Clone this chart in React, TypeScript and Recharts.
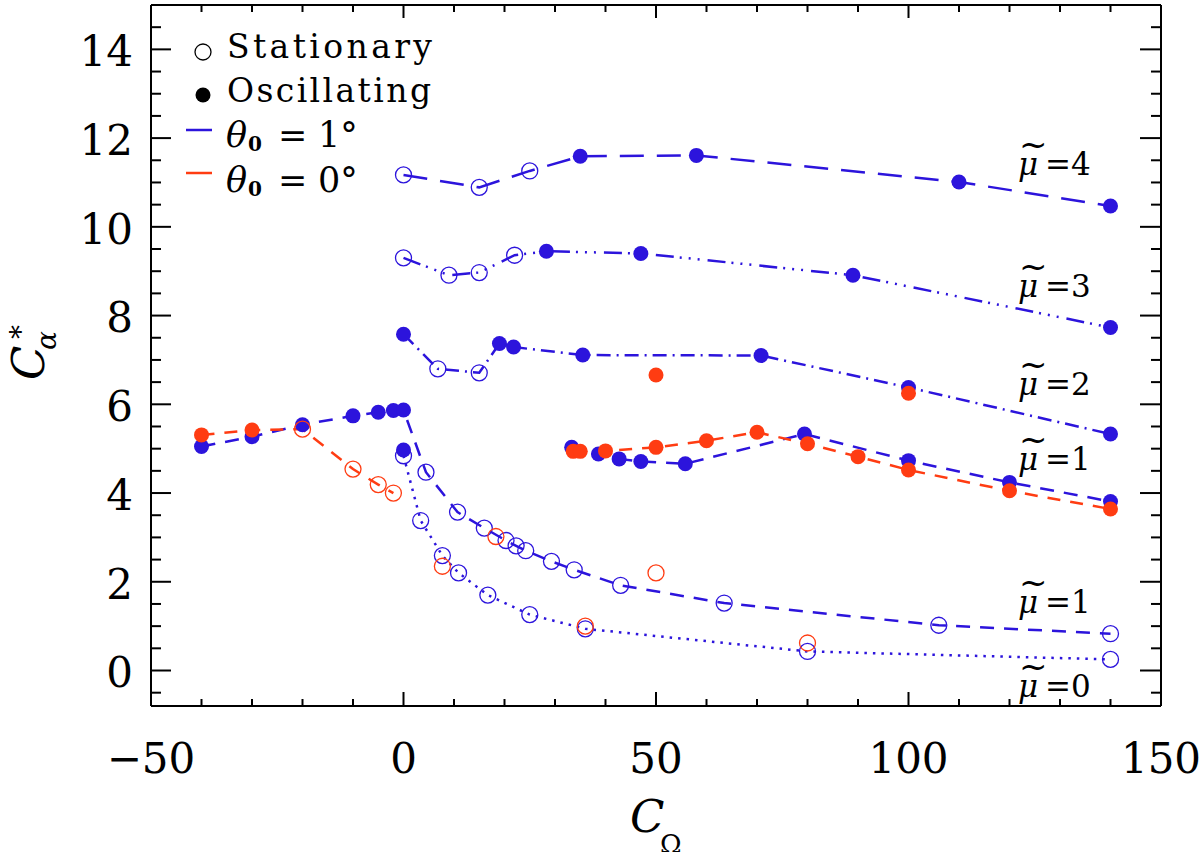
import React from "react";
import { LineChart, Line, XAxis, YAxis } from "recharts";

// [C_Omega, C_alpha*, oscillating?]
type Row = [number, number, number];

const blueMu4: Row[] = [[0, 11.17, 0], [15, 10.89, 0], [25, 11.26, 0], [35, 11.59, 1], [58, 11.61, 1], [110, 11.01, 1], [140, 10.47, 1]];
const blueMu3: Row[] = [[0, 9.3, 0], [9, 8.91, 0], [15, 8.97, 0], [22, 9.36, 0], [28.3, 9.45, 1], [47, 9.4, 1], [89, 8.91, 1], [140, 7.73, 1]];
const blueMu2: Row[] = [[0, 7.58, 1], [6.8, 6.8, 0], [15, 6.71, 0], [19, 7.37, 1], [21.8, 7.29, 1], [35.5, 7.11, 1], [70.8, 7.1, 1], [100, 6.38, 1], [140, 5.33, 1]];
const blueMu1Left: Row[] = [
  [-40, 5.05, 1], [-30, 5.27, 1], [-20, 5.54, 1], [-10, 5.74, 1], [-5, 5.82, 1], [-2, 5.86, 1], [0, 5.87, 1],
  [4.45, 4.47, 0], [10.7, 3.57, 0], [16, 3.21, 0], [20.3, 2.93, 0], [22.3, 2.81, 0], [24.2, 2.7, 0],
  [29.3, 2.46, 0], [33.8, 2.27, 0], [43, 1.92, 0], [63.5, 1.52, 0], [106, 1.02, 0], [140, 0.83, 0],
];
const blueMu1Right: Row[] = [[33.3, 5.03, 1], [38.6, 4.88, 1], [42.7, 4.77, 1], [47, 4.71, 1], [55.8, 4.66, 1], [79.4, 5.33, 1], [100, 4.73, 1], [120, 4.24, 1], [140, 3.81, 1]];
const blueMu0: Row[] = [[0, 4.84, 0], [3.4, 3.38, 0], [7.7, 2.59, 0], [10.9, 2.2, 0], [16.7, 1.7, 0], [25, 1.26, 0], [36, 0.94, 0], [80, 0.43, 0], [140, 0.25, 0]];
const blueSingle: Row[] = [[0, 4.97, 1]];
const redLeft: Row[] = [[-40, 5.31, 1], [-30, 5.42, 1], [-20, 5.44, 0], [-10, 4.54, 0], [-5, 4.19, 0], [-2, 4.0, 0]];
const redRight: Row[] = [[33.6, 4.94, 1], [35, 4.94, 1], [40, 4.95, 1], [50, 5.03, 1], [60, 5.18, 1], [70, 5.37, 1], [80, 5.11, 1], [90, 4.82, 1], [100, 4.52, 1], [120, 4.05, 1], [140, 3.64, 1]];
const redSingles: Row[] = [[50, 6.66, 1], [100, 6.25, 1], [7.7, 2.35, 0], [18.3, 3.02, 0], [36, 1.0, 0], [50, 2.2, 0], [80, 0.62, 0]];

const xTicks = [-50, -40, -30, -20, -10, 0, 10, 20, 30, 40, 50, 60, 70, 80, 90, 100, 110, 120, 130, 140, 150];
const xMajor = [-50, 0, 50, 100, 150];
const yTicks = [-0.5, 0, 0.5, 1, 1.5, 2, 2.5, 3, 3.5, 4, 4.5, 5, 5.5, 6, 6.5, 7, 7.5, 8, 8.5, 9, 9.5, 10, 10.5, 11, 11.5, 12, 12.5, 13, 13.5, 14, 14.5];
const yMajor = [0, 2, 4, 6, 8, 10, 12, 14];

const muLabels = [
  { text: "4", base: 175 },
  { text: "3", base: 297 },
  { text: "2", base: 395 },
  { text: "1", base: 470 },
  { text: "1", base: 613 },
  { text: "0", base: 697 },
];

const BLUE = "#2c14dc";
const RED = "#ff3c12";
const FONT = "'DejaVu Serif', serif";

const toPts = (rows: Row[]) => rows.map(([x, y, o]) => ({ x, y, osc: o === 1 }));

const series = [
  { id: "mu4", rows: blueMu4, color: BLUE, dash: "24 13" },
  { id: "mu3", rows: blueMu3, color: BLUE, dash: "18 6 2 7 2 7 2 8" },
  { id: "mu2", rows: blueMu2, color: BLUE, dash: "14 6 2 6" },
  { id: "mu1l", rows: blueMu1Left, color: BLUE, dash: "14 10" },
  { id: "mu1r", rows: blueMu1Right, color: BLUE, dash: "14 10" },
  { id: "mu0", rows: blueMu0, color: BLUE, dash: "2.5 6" },
  { id: "b1", rows: blueSingle, color: BLUE, dash: null },
  { id: "redl", rows: redLeft, color: RED, dash: "13 10" },
  { id: "redr", rows: redRight, color: RED, dash: "13 10" },
  { id: "reds", rows: redSingles, color: RED, dash: null },
];

function marker(color: string) {
  return (p: any) => {
    const { cx, cy, payload, index } = p;
    if (cx == null || cy == null) return <g key={index} />;
    return payload.osc ? (
      <circle key={index} cx={cx} cy={cy} r={7.5} fill={color} stroke="none" />
    ) : (
      <circle key={index} cx={cx} cy={cy} r={8} fill="none" stroke={color} strokeWidth={1.3} />
    );
  };
}

const fmt = (v: number) => (v < 0 ? "\u2212" + Math.abs(v) : String(v));

const BottomTick = (p: any) => {
  const v = p.payload.value;
  const major = xMajor.includes(v);
  return (
    <g>
      <line x1={p.x} x2={p.x} y1={p.y} y2={p.y - (major ? 14 : 7)} stroke="#000" strokeWidth={2} />
      {major && (
        <text x={p.x} y={p.y + 67} textAnchor="middle" fontSize={42} fontFamily={FONT} fill="#000">
          {fmt(v)}
        </text>
      )}
    </g>
  );
};

const TopTick = (p: any) => {
  const major = xMajor.includes(p.payload.value);
  return <line x1={p.x} x2={p.x} y1={p.y} y2={p.y + (major ? 13 : 7)} stroke="#000" strokeWidth={2} />;
};

const LeftTick = (p: any) => {
  const v = p.payload.value;
  const major = yMajor.includes(v);
  return (
    <g>
      <line x1={p.x} x2={p.x + (major ? 20 : 10)} y1={p.y} y2={p.y} stroke="#000" strokeWidth={2} />
      {major && (
        <text x={p.x - 18} y={p.y} dy="0.4em" textAnchor="end" fontSize={42} fontFamily={FONT} fill="#000">
          {v}
        </text>
      )}
    </g>
  );
};

const RightTick = (p: any) => {
  const major = yMajor.includes(p.payload.value);
  return <line x1={p.x} x2={p.x - (major ? 21 : 10)} y1={p.y} y2={p.y} stroke="#000" strokeWidth={2} />;
};

const axisLine = { stroke: "#000", strokeWidth: 2 };

function Overlay() {
  const t = { fontFamily: FONT, fill: "#000" };
  return (
    <svg width={1200} height={852} style={{ position: "absolute", left: 0, top: 0, pointerEvents: "none" }}>
      {/* legend */}
      <circle cx={203} cy={52} r={8} fill="none" stroke="#000" strokeWidth={1.3} />
      <text x={227} y={58} fontSize={33} textLength={205} {...t}>Stationary</text>
      <circle cx={203} cy={95} r={7.5} fill="#000" />
      <text x={227} y={102} fontSize={33} textLength={204} {...t}>Oscillating</text>
      <line x1={186} x2={212} y1={130} y2={130} stroke={BLUE} strokeWidth={2.5} />
      <line x1={186} x2={212} y1={173} y2={173} stroke={RED} strokeWidth={2.5} />
      {[{ y: 147, d: "1" }, { y: 192, d: "0" }].map((r) => (
        <g key={r.y}>
          <text x={226} y={r.y} fontSize={35} fontStyle="italic" {...t}>θ</text>
          <text x={248} y={r.y + 4} fontSize={20} fontWeight="bold" {...t}>0</text>
          <text x={278} y={r.y} fontSize={35} {...t}>=</text>
          <text x={318} y={r.y} fontSize={35} {...t}>{r.d}°</text>
        </g>
      ))}

      {/* curve labels */}
      {muLabels.map((m, i) => (
        <g key={i}>
          <text x={1019} y={m.base - 19} fontSize={34} {...t}>~</text>
          <text x={1018} y={m.base} fontSize={31} fontStyle="italic" {...t}>μ</text>
          <text x={1045} y={m.base} fontSize={31} {...t}>=</text>
          <text x={1071} y={m.base} fontSize={31} {...t}>{m.text}</text>
        </g>
      ))}

      {/* axis titles */}
      <text x={630} y={832} fontSize={45} fontStyle="italic" {...t}>C</text>
      <text x={660} y={853} fontSize={26} {...t}>Ω</text>
      <g transform="rotate(-90)">
        <text x={-380} y={44} fontSize={45} fontStyle="italic" {...t}>C</text>
        <text x={-350} y={56} fontSize={28} fontStyle="italic" {...t}>α</text>
        <text x={-339} y={30} fontSize={28} {...t}>*</text>
      </g>
    </svg>
  );
}

export default function App() {
  return (
    <div style={{ position: "absolute", left: 0, top: 0, width: 1200, height: 852, background: "#fff", fontFamily: FONT }}>
      <LineChart width={1200} height={852} margin={{ top: 0, right: 0, bottom: 0, left: 0 }}>
        <XAxis
          type="number"
          dataKey="x"
          domain={[-50, 150]}
          allowDataOverflow
          ticks={xTicks}
          interval={0}
          height={146}
          tickSize={0}
          tickMargin={0}
          tickLine={false}
          axisLine={axisLine}
          tick={BottomTick}
        />
        <XAxis
          xAxisId="t"
          orientation="top"
          type="number"
          dataKey="x"
          domain={[-50, 150]}
          allowDataOverflow
          ticks={xTicks}
          interval={0}
          height={5}
          tickSize={0}
          tickMargin={0}
          tickLine={false}
          axisLine={axisLine}
          tick={TopTick}
        />
        <YAxis
          type="number"
          domain={[-0.8, 15]}
          allowDataOverflow
          ticks={yTicks}
          interval={0}
          width={151}
          tickSize={0}
          tickMargin={0}
          tickLine={false}
          axisLine={axisLine}
          tick={LeftTick}
        />
        <YAxis
          yAxisId="r"
          orientation="right"
          type="number"
          domain={[-0.8, 15]}
          allowDataOverflow
          ticks={yTicks}
          interval={0}
          width={39}
          tickSize={0}
          tickMargin={0}
          tickLine={false}
          axisLine={axisLine}
          tick={RightTick}
        />
        {series.map((s) => (
          <Line
            key={s.id}
            data={toPts(s.rows)}
            dataKey="y"
            type="linear"
            stroke={s.dash ? s.color : "none"}
            strokeWidth={2.5}
            strokeDasharray={s.dash ?? undefined}
            dot={marker(s.color)}
            activeDot={false}
            isAnimationActive={false}
          />
        ))}
      </LineChart>
      <Overlay />
    </div>
  );
}
